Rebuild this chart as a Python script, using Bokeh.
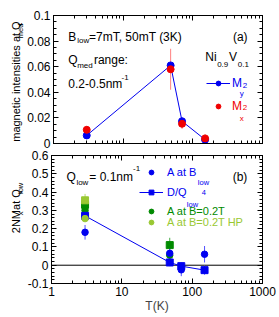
import math
from bokeh.plotting import figure
from bokeh.models import (FixedTicker, LogAxis, LinearAxis, Label, Legend,
                          LegendItem, Span, Range1d, CustomJSTickFormatter)
from bokeh.layouts import column, row
from bokeh.embed import file_html
from bokeh.resources import INLINE

FONT = "Liberation Sans"
BLUE = "#0000f0"
RED = "#f00000"
GREEN = "#008a00"
LGREEN = "#99c832"

# ---------------- data ----------------
T = [3, 48, 70, 150]
# panel (a)
my2 = [0.0063, 0.061, 0.0174, 0.003]
mx2 = [0.0107, 0.058, 0.0154, 0.004]
mx2_err = [0.003, 0.016, 0.004, 0.003]
# panel (b)
A_blow = [0.18, 0.065, -0.025, 0.06]
A_blow_err = [0.04, 0.03, 0.035, 0.045]
D_q4 = [0.27, 0.015, -0.005, -0.027]
D_q4_err = [0.015, 0.02, 0.02, 0.025]
T2 = [3, 48]
A_02 = [0.30, 0.055]
A_02_err = [0.015, 0.015]
D_02 = [0.33, 0.11]
D_02_err = [0.03, 0.04]
T3 = [3]
A_hp = [0.255]
A_hp_err = [0.015]
D_hp = [0.355]
D_hp_err = [0.035]

x_ticks = [1, 10, 100, 1000]
x_labels = ["1", "10", "100", "1000"]
x_minor = [m * d for d in (1, 10, 100) for m in range(2, 10)]
ya_ticks = [0, 0.02, 0.04, 0.06, 0.08, 0.1]
ya_labels = ["0", "0.02", "0.04", "0.06", "0.08", "0.1"]
ya_minor = [round(i * 0.005, 4) for i in range(21)]
yb_ticks = [-0.1, 0, 0.1, 0.2, 0.3, 0.4, 0.5, 0.6]
yb_labels = ["-0.1", "0", "0.1", "0.2", "0.3", "0.4", "0.5", "0.6"]
yb_minor = [round(-0.1 + i * 0.02, 4) for i in range(36)]

FMT_CODE = """
for (let i = 0; i < tvals.length; i++) {
  if (Math.abs(tvals[i] - tick) < 1e-9) return tlabels[i];
}
return '';
"""

SIDE_W = 24                  # width of the strip holding the rotated y titles
FRAME_L, FRAME_R = 50, 262   # page x of the plot frames
PAGE_W = 279


def style_axis(ax, show_labels, size="12px"):
    ax.major_tick_in = 5
    ax.major_tick_out = 0
    ax.minor_tick_in = 3
    ax.minor_tick_out = 0
    ax.axis_line_color = "black"
    ax.major_tick_line_color = "black"
    ax.minor_tick_line_color = "black"
    ax.major_label_text_font = FONT
    ax.major_label_text_color = "black"
    ax.axis_label_text_font = FONT
    ax.axis_label_text_font_style = "normal"
    ax.axis_label_text_font_size = "12px"
    if show_labels:
        ax.major_label_text_font_size = size
        ax.major_label_standoff = 3
    else:
        ax.formatter = CustomJSTickFormatter(code="return ''")
        ax.major_label_text_font_size = "1px"
        ax.major_label_standoff = 0


def make_fig(height, yr, ticks, labels, minor, btop, bbottom, show_x):
    p = figure(width=PAGE_W - SIDE_W, height=height, x_axis_type="log",
               x_range=Range1d(1, 1000), y_range=Range1d(*yr),
               output_backend="svg", toolbar_location=None,
               min_border_left=FRAME_L - SIDE_W, min_border_right=PAGE_W - FRAME_R,
               min_border_top=btop, min_border_bottom=bbottom)
    p.grid.visible = False
    p.outline_line_color = "black"
    p.background_fill_color = "white"
    p.border_fill_color = "white"
    xt = FixedTicker(ticks=x_ticks, minor_ticks=x_minor)
    yt = FixedTicker(ticks=ticks, minor_ticks=minor)
    bottom = p.below[0]
    left = p.left[0]
    bottom.ticker = xt
    left.ticker = yt
    style_axis(bottom, show_x)
    if show_x:
        bottom.formatter = CustomJSTickFormatter(
            args=dict(tvals=x_ticks, tlabels=x_labels), code=FMT_CODE)
    style_axis(left, True)
    left.formatter = CustomJSTickFormatter(
        args=dict(tvals=ticks, tlabels=labels), code=FMT_CODE)
    top = LogAxis(ticker=xt)
    style_axis(top, False)
    p.add_layout(top, "above")
    right = LinearAxis(ticker=yt)
    style_axis(right, False)
    p.add_layout(right, "right")
    return p


def make_side(height):
    s = figure(width=SIDE_W, height=height, x_range=Range1d(0, SIDE_W),
               y_range=Range1d(0, height), output_backend="svg",
               toolbar_location=None, x_axis_location=None, y_axis_location=None,
               min_border_left=0, min_border_right=0, min_border_top=0,
               min_border_bottom=0)
    s.grid.visible = False
    s.outline_line_color = None
    s.background_fill_color = "white"
    s.border_fill_color = "white"
    return s


# page-pixel -> data helpers (reference positions of annotations)
def dx(px):
    return 10 ** (3 * (px - FRAME_L) / (FRAME_R - FRAME_L))


def label(p, fb, scale, px, py, text, size, color="black"):
    # (px, py): page position of the text's start on its baseline
    p.add_layout(Label(x=dx(px), y=(fb - py) * scale + p.y_range.start,
                       text=text, text_font=FONT,
                       text_font_size=f"{size}px", text_color=color,
                       text_align="left", text_baseline="alphabetic"))


def side_label(s, top, px, py, text, size):
    # rotated title text, reading upwards, baseline at page x = px
    s.add_layout(Label(x=px, y=top + s.height - py, text=text, text_font=FONT,
                       text_font_size=f"{size}px", text_color="black",
                       angle=math.pi / 2, text_align="left",
                       text_baseline="alphabetic"))


def legend(p, fb, items, px_left, py_center, color, size, standoff):
    h = 12
    leg = Legend(items=items,
                 location=(px_left - FRAME_L, fb - (py_center + h / 2)),
                 glyph_width=24, glyph_height=h, label_height=h,
                 label_standoff=standoff, padding=0, margin=0, spacing=0,
                 border_line_color=None, background_fill_alpha=0,
                 label_text_font=FONT, label_text_font_size=f"{size}px",
                 label_text_color=color, label_text_baseline="middle")
    p.add_layout(leg)


def errbars(p, xs, ys, es, color):
    p.segment(x0=xs, x1=xs, y0=[y - e for y, e in zip(ys, es)],
              y1=[y + e for y, e in zip(ys, es)], line_color=color, line_width=1)


# ---------------- panel (a) ----------------
HA, TOPA = 149, 0
FBA = 143
SA = 0.1 / 128
pa = make_fig(HA, (0, 0.1), ya_ticks, ya_labels, ya_minor, 15, 6, False)
errbars(pa, T, mx2, mx2_err, "#ff8080")
ra_line = pa.line(T, my2, line_color=BLUE, line_width=1)
ra_my = pa.scatter(T, my2, marker="circle", size=7, fill_color=BLUE, line_color=BLUE)
ra_mx = pa.scatter(T, mx2, marker="circle", size=7, fill_color=RED, line_color=RED)

legend(pa, FBA, [LegendItem(label="M", renderers=[ra_line, ra_my])], 203, 84, BLUE, 12, 2)
legend(pa, FBA, [LegendItem(label="M", renderers=[ra_mx])], 203, 107, RED, 12, 2)
label(pa, FBA, SA, 239, 93, "y", 8, BLUE)
label(pa, FBA, SA, 242, 85, "2", 8, BLUE)
label(pa, FBA, SA, 239, 118, "x", 8, RED)
label(pa, FBA, SA, 242, 107, "2", 8, RED)

label(pa, FBA, SA, 65, 36, "B", 12)
label(pa, FBA, SA, 74, 40, "low", 8)
label(pa, FBA, SA, 86, 36, "=7mT, 50mT (3K)", 12)
label(pa, FBA, SA, 232, 36, "(a)", 12)
label(pa, FBA, SA, 65, 59, "Q", 12)
label(pa, FBA, SA, 74, 65, "med", 8)
label(pa, FBA, SA, 91, 59, "range:", 12)
label(pa, FBA, SA, 65, 83, "0.2-0.5nm", 12)
label(pa, FBA, SA, 119, 77, "-1", 8)
label(pa, FBA, SA, 204, 56, "Ni", 12)
label(pa, FBA, SA, 216, 64, "0.9", 8)
label(pa, FBA, SA, 228, 56, "V", 12)
label(pa, FBA, SA, 237, 64, "0.1", 8)

sa = make_side(HA)
side_label(sa, TOPA, 15.5, 147, "magnetic intensities at Q", 11)
side_label(sa, TOPA, 19.5, 26.4, "med", 7.5)

# ---------------- panel (b) ----------------
HB, TOPB = 168, 149
FB2 = 283
SB = 0.7 / 128
pb = make_fig(HB, (-0.1, 0.6), yb_ticks, yb_labels, yb_minor, 6, 34, True)
pb.below[0].axis_label = "T(K)"
pb.below[0].axis_label_standoff = 0
pb.add_layout(Span(location=0, dimension="width", line_color="black",
                   line_width=1, level="underlay"))
errbars(pb, T2, D_02, D_02_err, "#44aa44")
errbars(pb, T3, D_hp, D_hp_err, "#b5d86a")
errbars(pb, T, A_blow, A_blow_err, "#5050ff")
errbars(pb, T, D_q4, D_q4_err, "#5050ff")
errbars(pb, T2, A_02, A_02_err, "#44aa44")
errbars(pb, T3, A_hp, A_hp_err, "#b5d86a")
pb.scatter(T2, D_02, marker="square", size=7, fill_color=GREEN, line_color=GREEN)
pb.scatter(T3, D_hp, marker="square", size=7, fill_color=LGREEN, line_color=LGREEN)
rb_a02 = pb.scatter(T2, A_02, marker="circle", size=6.5, fill_color=GREEN, line_color=GREEN)
rb_dl = pb.line(T, D_q4, line_color=BLUE, line_width=1)
rb_d = pb.scatter(T, D_q4, marker="square", size=7, fill_color=BLUE, line_color=BLUE)
rb_hp = pb.scatter(T3, A_hp, marker="circle", size=6.5, fill_color=LGREEN, line_color=LGREEN)
rb_a = pb.scatter(T, A_blow, marker="circle", size=6.5, fill_color=BLUE, line_color=BLUE)

legend(pb, FB2, [LegendItem(label="A at B", renderers=[rb_a])], 138, 172, BLUE, 11, 4)
label(pb, FB2, SB, 197, 182, "low", 7.5, BLUE)
legend(pb, FB2, [LegendItem(label="D/Q", renderers=[rb_dl, rb_d])], 138, 192, BLUE, 11, 4)
label(pb, FB2, SB, 186, 204, "low", 7.5, BLUE)
label(pb, FB2, SB, 201, 192, "4", 7.5, BLUE)
legend(pb, FB2, [LegendItem(label="A at B=0.2T", renderers=[rb_a02])], 138, 211, GREEN, 11, 4)
legend(pb, FB2, [LegendItem(label="A at B=0.2T HP", renderers=[rb_hp])], 138, 222, LGREEN, 11, 4)

label(pb, FB2, SB, 65, 176, "Q", 12)
label(pb, FB2, SB, 75, 182, "low", 8)
label(pb, FB2, SB, 88, 176, "= 0.1nm", 12)
label(pb, FB2, SB, 132, 168, "-1", 8)
label(pb, FB2, SB, 232, 176, "(b)", 12)

sb = make_side(HB)
side_label(sb, TOPB, 15.5, 251, "2NM", 11)
side_label(sb, TOPB, 19.5, 227.5, "x", 7.5)
side_label(sb, TOPB, 15.5, 220.5, "at Q", 11)
side_label(sb, TOPB, 19.5, 199.5, "low", 7.5)

layout = column(row(sa, pa, spacing=0), row(sb, pb, spacing=0), spacing=0)
open("out.html", "w").write(file_html(layout, INLINE))
